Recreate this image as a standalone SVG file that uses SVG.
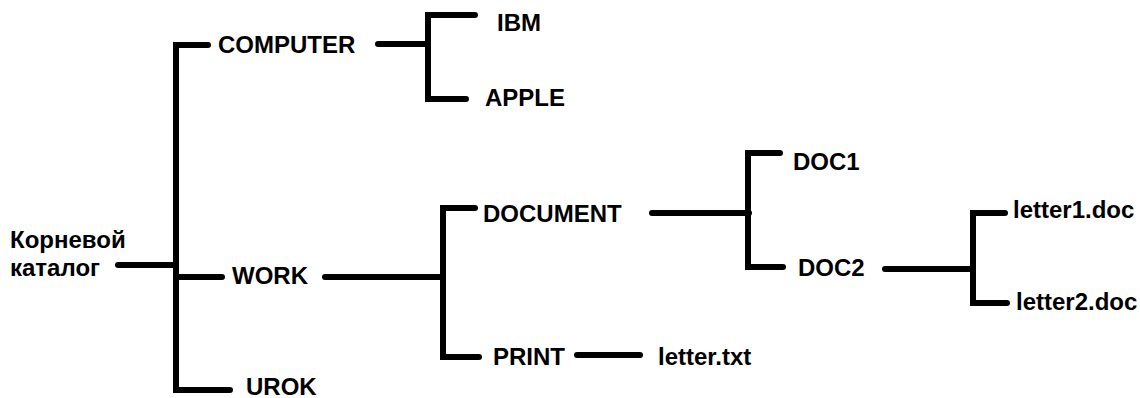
<svg xmlns="http://www.w3.org/2000/svg" width="1140" height="398" viewBox="0 0 1140 398">
<style>
.t{font-family:"Liberation Sans",Arial,sans-serif;font-weight:bold;font-size:24px;fill:#000}
.c{fill:none;stroke:#000;stroke-width:6;stroke-linecap:round;stroke-linejoin:miter}
</style>
<rect width="1140" height="398" fill="#fff"/>
<g id="connectors">
<path class="c" d="M118 265H176"/>
<path class="c" d="M208 45H176V390H230"/>
<path class="c" d="M176 277H222"/>
<path class="c" d="M378 44H428"/>
<path class="c" d="M475 15H428V99H466"/>
<path class="c" d="M325 277H441"/>
<path class="c" d="M475 208H443V357H479"/>
<path class="c" d="M577 355H640"/>
<path class="c" d="M652 213H749"/>
<path class="c" d="M780 153H748V267H783"/>
<path class="c" d="M885 269H973"/>
<path class="c" d="M1005 213H973V303H1007"/>
</g>
<g id="root"><text class="t" x="10" y="248">Корневой</text><text class="t" x="10" y="276">каталог</text></g>
<g id="computer"><text class="t" x="218" y="53">COMPUTER</text></g>
<g id="ibm"><text class="t" x="497" y="31">IBM</text></g>
<g id="apple"><text class="t" x="485" y="106">APPLE</text></g>
<g id="work"><text class="t" x="232" y="284">WORK</text></g>
<g id="urok"><text class="t" x="246" y="395">UROK</text></g>
<g id="document"><text class="t" x="483" y="222">DOCUMENT</text></g>
<g id="print"><text class="t" x="493" y="365">PRINT</text></g>
<g id="lettertxt"><text class="t" x="658" y="365">letter.txt</text></g>
<g id="doc1"><text class="t" x="793" y="170">DOC1</text></g>
<g id="doc2"><text class="t" x="798" y="276">DOC2</text></g>
<g id="letter1"><text class="t" x="1013" y="218">letter1.doc</text></g>
<g id="letter2"><text class="t" x="1016" y="310">letter2.doc</text></g>
</svg>
